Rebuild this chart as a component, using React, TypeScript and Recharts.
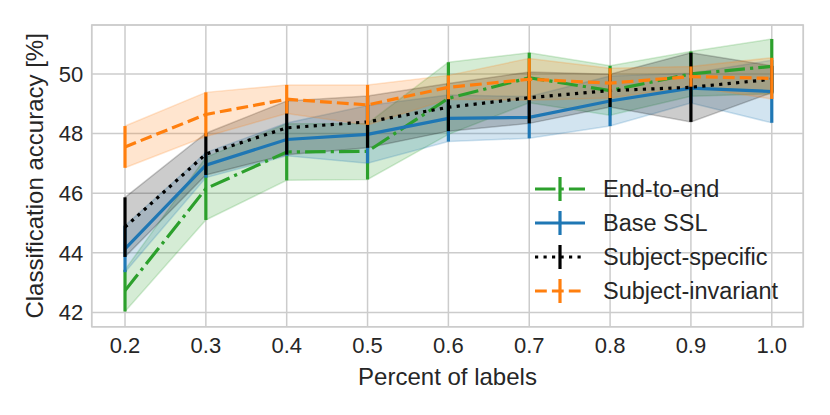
import React from "react"
import {
  ComposedChart, Line, Area, XAxis, YAxis, CartesianGrid, ErrorBar, ReferenceArea,
} from "recharts"

const X = [0.2, 0.3, 0.4, 0.5, 0.6, 0.7, 0.8, 0.9, 1.0]
const Y_TICKS = [42, 44, 46, 48, 50]

const E2E_MEAN = [42.73, 46.15, 47.38, 47.40, 49.18, 49.87, 49.44, 50.00, 50.25]
const E2E_STD  = [0.70, 1.05, 0.95, 0.94, 1.21, 0.84, 0.83, 0.75, 0.92]
const SSL_MEAN = [44.13, 46.94, 47.80, 47.97, 48.51, 48.54, 49.09, 49.52, 49.41]
const SSL_STD  = [0.78, 0.42, 0.55, 0.97, 0.78, 0.70, 0.84, 0.50, 1.05]
const SPEC_MEAN = [44.86, 47.31, 48.19, 48.39, 48.88, 49.20, 49.44, 49.55, 49.82]
const SPEC_STD  = [1.00, 0.70, 0.90, 0.87, 0.80, 0.86, 0.55, 1.16, 0.45]
const INV_MEAN = [47.55, 48.64, 49.15, 48.96, 49.55, 49.82, 49.69, 49.91, 49.85]
const INV_STD  = [0.70, 0.74, 0.48, 0.67, 0.40, 0.70, 0.50, 0.34, 0.69]

const SERIES = [
  { key: "e2e",  name: "End-to-end",        color: "#2ca02c", dash: "20.5 5.1 3.2 5.1", mean: E2E_MEAN,  std: E2E_STD },
  { key: "ssl",  name: "Base SSL",          color: "#1f77b4", dash: undefined,         mean: SSL_MEAN,  std: SSL_STD },
  { key: "spec", name: "Subject-specific",  color: "#000000", dash: "3.2 5.3",          mean: SPEC_MEAN, std: SPEC_STD },
  { key: "inv",  name: "Subject-invariant", color: "#ff7f0e", dash: "11.8 5.1",         mean: INV_MEAN,  std: INV_STD },
]

const data = X.map((x, i) => {
  const row: Record<string, any> = { x }
  for (const s of SERIES) {
    row[s.key] = s.mean[i]
    row[s.key + "Err"] = s.std[i]
    row[s.key + "Band"] = [s.mean[i] - s.std[i], s.mean[i] + s.std[i]]
  }
  return row
})

const FONT = "'Liberation Sans', Arial, Helvetica, sans-serif"
const TXT = "#262626"
const X_DOMAIN = [0.1588, 1.039]
const Y_DOMAIN = [41.52, 51.64]

function Legend() {
  return (
    <svg width={830} height={415} style={{ position: "absolute", left: 0, top: 0, pointerEvents: "none" }}>
      {SERIES.map((s, i) => {
        const y = 189 + i * 34
        return (
          <g key={s.key}>
            <line x1={535} x2={585} y1={y} y2={y} stroke={s.color} strokeWidth={3.2} strokeDasharray={s.dash} />
            <line x1={560} x2={560} y1={y - 12} y2={y + 12} stroke={s.color} strokeWidth={3.2} />
            <text x={603} y={y} dominantBaseline="central" fontFamily={FONT} fontSize={23.5} fill={TXT}>{s.name}</text>
          </g>
        )
      })}
    </svg>
  )
}

export default function App() {
  return (
    <div style={{ position: "absolute", left: 0, top: 0, width: 830, height: 415, background: "#fff" }}>
      <ComposedChart width={830} height={415} data={data} margin={{ top: 25, right: 26.7, left: 0, bottom: 0 }}>
        <CartesianGrid stroke="#cccccc" strokeWidth={1.5} />
        <XAxis
          dataKey="x" type="number" domain={X_DOMAIN} ticks={X} allowDataOverflow
          tickFormatter={(v) => Number(v).toFixed(1)}
          height={88.3} axisLine={false} tickLine={false} tickSize={0} tickMargin={11}
          tick={{ fontSize: 22, fill: TXT, fontFamily: FONT }}
          label={{ value: "Percent of labels", position: "insideBottom", offset: 30, fontSize: 24, fill: TXT, fontFamily: FONT }}
        />
        <YAxis
          type="number" domain={Y_DOMAIN} ticks={Y_TICKS} allowDataOverflow
          width={91.7} axisLine={false} tickLine={false} tickSize={0} tickMargin={8.5}
          tick={{ fontSize: 22, fill: TXT, fontFamily: FONT }}
          label={{
            content: (p: any) => {
              const cy = p.viewBox.y + p.viewBox.height / 2
              return (
                <text x={43} y={cy} transform={`rotate(-90, 43, ${cy})`} textAnchor="middle"
                  fontSize={24} fill={TXT} fontFamily={FONT}>Classification accuracy [%]</text>
              )
            },
          }}
        />
        {SERIES.map((s) => (
          <Area key={s.key + "Band"} dataKey={s.key + "Band"} type="linear" fill={s.color} fillOpacity={0.2}
            stroke={s.color} strokeOpacity={0.2} strokeWidth={1.5} isAnimationActive={false} activeDot={false} />
        ))}
        {SERIES.map((s) => (
          <Line key={s.key} dataKey={s.key} type="linear" stroke={s.color} strokeWidth={3.2}
            strokeDasharray={s.dash} dot={false} activeDot={false} isAnimationActive={false}>
            <ErrorBar dataKey={s.key + "Err"} width={0} stroke={s.color} strokeWidth={3.2} direction="y" isAnimationActive={false} />
          </Line>
        ))}
        <ReferenceArea x1={X_DOMAIN[0]} x2={X_DOMAIN[1]} y1={Y_DOMAIN[0]} y2={Y_DOMAIN[1]}
          fill="none" stroke="#cccccc" strokeWidth={1.5} ifOverflow="visible" />
      </ComposedChart>
      <Legend />
    </div>
  )
}
